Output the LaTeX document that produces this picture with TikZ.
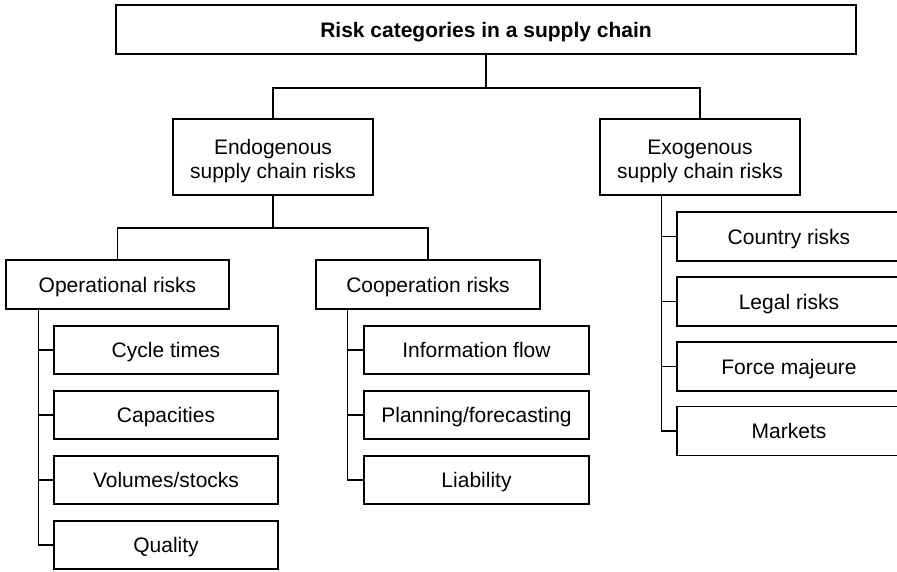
\documentclass[tikz,border=0pt]{standalone}
\usepackage{fontspec}
\setmainfont{Liberation Sans}
\begin{document}
\begin{tikzpicture}[x=1pt,y=-1pt,
  every node/.style={font=\fontsize{21}{24}\selectfont},
  box/.style={draw=black, line width=1.3pt, rectangle, inner sep=0pt, align=center},
  one/.style={box, text height=15pt, text depth=0pt},
  conn/.style={draw=black, line width=1.3pt}]
\clip (0,0) rectangle (897,571);
\fill[white] (0,0) rectangle (897,571);
% level 0
\node[one, minimum width=740pt, minimum height=49pt, font=\fontsize{21}{24}\selectfont\bfseries] (top) at (486,29.5) {Risk categories in a supply chain};
% level 1
\node[box, minimum width=200pt, minimum height=76pt] (endo) at (273,157) {\rule{0pt}{23pt}Endogenous\\supply chain risks};
\node[box, minimum width=200pt, minimum height=76pt] (exo) at (700,157) {\rule{0pt}{23pt}Exogenous\\supply chain risks};
% level 2
\node[one, minimum width=223pt, minimum height=49pt] (oper) at (117.5,284.5) {Operational risks};
\node[one, minimum width=224pt, minimum height=49pt] (coop) at (428,284.5) {Cooperation risks};
% operational children
\node[one, minimum width=224pt, minimum height=48pt] (o1) at (166,350) {Cycle times};
\node[one, minimum width=224pt, minimum height=48pt] (o2) at (166,415) {Capacities};
\node[one, minimum width=224pt, minimum height=48pt] (o3) at (166,480) {Volumes/stocks};
\node[one, minimum width=224pt, minimum height=48pt] (o4) at (166,545) {Quality};
% cooperation children
\node[one, minimum width=225pt, minimum height=48pt] (k1) at (476.5,350) {Information flow};
\node[one, minimum width=225pt, minimum height=48pt] (k2) at (476.5,415) {Planning/forecasting};
\node[one, minimum width=225pt, minimum height=48pt] (k3) at (476.5,480) {Liability};
% exogenous children
\node[one, minimum width=224pt, minimum height=49pt] (e1) at (789,236.5) {Country risks};
\node[one, minimum width=224pt, minimum height=49pt] (e2) at (789,301.5) {Legal risks};
\node[one, minimum width=224pt, minimum height=49pt] (e3) at (789,366.5) {Force majeure};
\node[one, minimum width=224pt, minimum height=49pt] (e4) at (789,431) {Markets};
% connectors
\coordinate (j1) at (486,88);
\coordinate (j2) at (273,228);
\draw[conn] (top.south) -- (j1);
\draw[conn] (endo.north) |- (j1) -| (exo.north);
\draw[conn] (endo.south) -- (j2);
\draw[conn] (oper.north) |- (j2) -| (coop.north);
\foreach \c in {o1,o2,o3,o4} \draw[conn] ([xshift=33pt]oper.south west) |- (\c.west);
\foreach \c in {k1,k2,k3} \draw[conn] ([xshift=32pt]coop.south west) |- (\c.west);
\foreach \c in {e1,e2,e3,e4} \draw[conn] ([xshift=62pt]exo.south west) |- (\c.west);
\end{tikzpicture}
\end{document}
